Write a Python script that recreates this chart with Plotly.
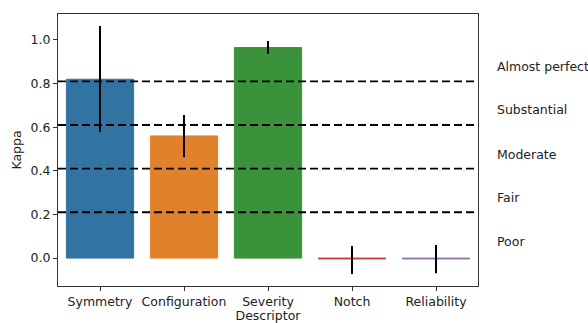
import plotly.graph_objects as go

categories = ["Symmetry", "Configuration", "Severity", "Notch", "Reliability"]
kappa = [0.82, 0.56, 0.965, -0.004, -0.004]
err_upper = [1.064, 0.656, 0.995, 0.055, 0.06]
err_lower = [0.579, 0.462, 0.936, -0.073, -0.07]
colors = ["#3274a1", "#e1812c", "#3a923a", "#c03d3e", "#9372b2"]

thresholds = [0.21, 0.41, 0.61, 0.81]
level_labels = ["Poor", "Fair", "Moderate", "Substantial", "Almost perfect"]
level_positions = [0.075, 0.277, 0.477, 0.68, 0.88]

FONT = "DejaVu Sans"
FS = 12.5

err_plus = [u - v for u, v in zip(err_upper, kappa)]
err_minus = [v - l for v, l in zip(kappa, err_lower)]

fig = go.Figure()
fig.add_trace(go.Bar(
    x=categories, y=kappa,
    marker=dict(color=colors, line=dict(width=1, color=colors)),
    width=0.8,
    error_y=dict(type="data", symmetric=False, array=err_plus, arrayminus=err_minus,
                 color="black", thickness=2, width=0),
    showlegend=False,
))

for t in thresholds:
    fig.add_shape(type="line", xref="paper", x0=0, x1=1, yref="y", y0=t, y1=t,
                  line=dict(color="black", width=1.8, dash="8px,4px"), layer="above")

for lab, pos in zip(level_labels, level_positions):
    fig.add_annotation(text=lab, xref="paper", x=1.04, yref="y", y=pos,
                       xanchor="left", yanchor="middle", showarrow=False,
                       font=dict(family=FONT, size=FS, color="#222"))

fig.update_layout(
    width=588, height=323,
    margin=dict(l=58, r=110, t=14, b=37, autoexpand=False),
    plot_bgcolor="white", paper_bgcolor="white",
    font=dict(family=FONT, size=FS, color="#222"),
    bargap=0.2,
)
fig.update_xaxes(
    range=[-0.5, 4.5], showline=True, linecolor="#333", linewidth=1, mirror=True,
    ticks="outside", ticklen=4, tickcolor="#333", showgrid=False, automargin=False,
    title=dict(text="Descriptor", standoff=2, font=dict(size=FS)),
)
fig.update_yaxes(
    range=[-0.128, 1.119], showline=True, linecolor="#333", linewidth=1, mirror=True,
    ticks="outside", ticklen=4, tickcolor="#333", showgrid=False, zeroline=False,
    automargin=False,
    tickvals=[0, 0.2, 0.4, 0.6, 0.8, 1.0], ticktext=["0.0", "0.2", "0.4", "0.6", "0.8", "1.0"],
    title=dict(text="Kappa", standoff=6, font=dict(size=FS)),
)

fig.write_html("out.html", config={"displayModeBar": False},
               post_script="document.body.style.margin='0';")
